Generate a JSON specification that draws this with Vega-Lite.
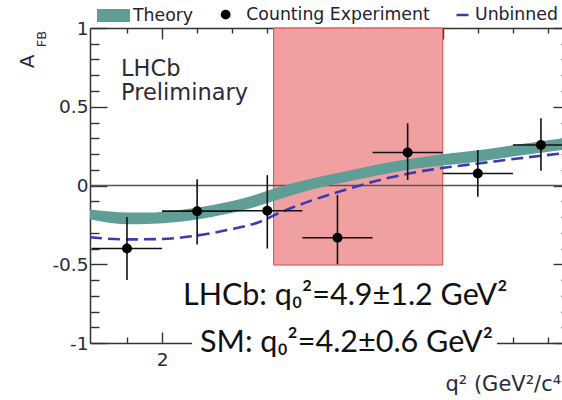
{
  "$schema": "https://vega.github.io/schema/vega-lite/v6.json",
  "width": 480,
  "height": 315,
  "autosize": {"type": "none"},
  "padding": {"left": 90, "top": 28, "right": 0, "bottom": 57},
  "background": "white",
  "config": {
    "view": {"stroke": null},
    "axis": {"grid": false, "labelFlush": false, "labelOverlap": false, "domainColor": "#333", "domainWidth": 1.5, "tickColor": "#333", "tickWidth": 1.4, "labelFont": "DejaVu Sans", "labelFontSize": 18.5, "labelColor": "#2a2a3a", "titleColor": "#2a2a3a", "titleFontWeight": "normal"},
    "legend": {"title": null, "orient": "none", "padding": 0, "labelFont": "DejaVu Sans", "labelFontSize": 17.3, "labelColor": "#222230", "labelLimit": 400}
  },
  "datasets": {
    "theory": [
      {"q": 0.973, "hi": -0.152, "lo": -0.215, "series": "Theory"},
      {"q": 1.3, "hi": -0.166, "lo": -0.24, "series": "Theory"},
      {"q": 1.5, "hi": -0.172, "lo": -0.246, "series": "Theory"},
      {"q": 1.785, "hi": -0.172, "lo": -0.244, "series": "Theory"},
      {"q": 2.256, "hi": -0.155, "lo": -0.23, "series": "Theory"},
      {"q": 2.726, "hi": -0.124, "lo": -0.198, "series": "Theory"},
      {"q": 3.21, "hi": -0.075, "lo": -0.151, "series": "Theory"},
      {"q": 3.65, "hi": -0.012, "lo": -0.09, "series": "Theory"},
      {"q": 4.151, "hi": 0.046, "lo": -0.024, "series": "Theory"},
      {"q": 4.636, "hi": 0.092, "lo": 0.024, "series": "Theory"},
      {"q": 5.106, "hi": 0.137, "lo": 0.067, "series": "Theory"},
      {"q": 5.576, "hi": 0.172, "lo": 0.105, "series": "Theory"},
      {"q": 5.961, "hi": 0.197, "lo": 0.125, "series": "Theory"},
      {"q": 6.531, "hi": 0.226, "lo": 0.152, "series": "Theory"},
      {"q": 7.101, "hi": 0.262, "lo": 0.19, "series": "Theory"},
      {"q": 7.7, "hi": 0.299, "lo": 0.225, "series": "Theory"},
      {"q": 7.814, "hi": 0.305, "lo": 0.231, "series": "Theory"}
    ],
    "unbinned": [
      {"q": 0.973, "a": -0.329, "series": "Unbinned"},
      {"q": 1.5, "a": -0.342, "series": "Unbinned"},
      {"q": 1.971, "a": -0.34, "series": "Unbinned"},
      {"q": 2.441, "a": -0.321, "series": "Unbinned"},
      {"q": 2.925, "a": -0.283, "series": "Unbinned"},
      {"q": 3.396, "a": -0.23, "series": "Unbinned"},
      {"q": 3.66, "a": -0.176, "series": "Unbinned"},
      {"q": 4.151, "a": -0.092, "series": "Unbinned"},
      {"q": 4.636, "a": -0.024, "series": "Unbinned"},
      {"q": 5.106, "a": 0.035, "series": "Unbinned"},
      {"q": 5.576, "a": 0.081, "series": "Unbinned"},
      {"q": 5.961, "a": 0.109, "series": "Unbinned"},
      {"q": 6.531, "a": 0.141, "series": "Unbinned"},
      {"q": 7.101, "a": 0.173, "series": "Unbinned"},
      {"q": 7.7, "a": 0.204, "series": "Unbinned"},
      {"q": 7.814, "a": 0.21, "series": "Unbinned"}
    ],
    "points": [
      {"q": 1.5, "a": -0.4, "qlo": 1.0, "qhi": 2.0, "alo": -0.6, "ahi": -0.2, "series": "Counting Experiment"},
      {"q": 2.5, "a": -0.163, "qlo": 2.0, "qhi": 3.0, "alo": -0.375, "ahi": 0.04, "series": "Counting Experiment"},
      {"q": 3.5, "a": -0.16, "qlo": 3.0, "qhi": 4.0, "alo": -0.4, "ahi": 0.066, "series": "Counting Experiment"},
      {"q": 4.5, "a": -0.332, "qlo": 4.0, "qhi": 5.0, "alo": -0.5, "ahi": -0.06, "series": "Counting Experiment"},
      {"q": 5.5, "a": 0.21, "qlo": 5.0, "qhi": 6.0, "alo": 0.035, "ahi": 0.395, "series": "Counting Experiment"},
      {"q": 6.5, "a": 0.076, "qlo": 6.0, "qhi": 7.0, "alo": -0.071, "ahi": 0.225, "series": "Counting Experiment"},
      {"q": 7.4, "a": 0.257, "qlo": 7.0, "qhi": 8.0, "alo": 0.094, "ahi": 0.427, "series": "Counting Experiment"}
    ]
  },
  "resolve": {"axis": {"x": "independent", "y": "independent"}, "scale": {"x": "shared", "y": "shared"}},
  "layer": [
    {
      "data": {"values": [{"lo": 3.59, "hi": 6.0, "bottom": -0.505, "top": 1}]},
      "mark": {"type": "rect", "fill": "#f0a0a0", "stroke": "#e04848", "strokeWidth": 1},
      "encoding": {
        "x": {"field": "lo", "type": "quantitative", "scale": {"domain": [0.973, 7.814], "nice": false, "zero": false},
          "axis": {"orient": "bottom", "values": [2], "ticks": false, "labelPadding": 7,
            "title": "q² (GeV²/c⁴)", "titleX": 355, "titleY": 47, "titleAlign": "left", "titleBaseline": "alphabetic", "titleFont": "DejaVu Sans", "titleFontSize": 21}},
        "x2": {"field": "hi"},
        "y": {"field": "bottom", "type": "quantitative", "scale": {"domain": [-1, 1], "nice": false, "zero": false},
          "axis": {"orient": "left", "values": [-1, -0.5, 0, 0.5, 1], "ticks": false, "labelPadding": 2,
            "labelExpr": "'' + datum.value",
            "title": "A", "titleAngle": -90, "titleX": -57, "titleY": 33, "titleAlign": "center", "titleBaseline": "alphabetic", "titleFont": "DejaVu Sans", "titleFontSize": 20}},
        "y2": {"field": "top"}
      }
    },
    {
      "data": {"values": [{"v": 0}]},
      "mark": {"type": "rule", "color": "#555", "strokeWidth": 1.3},
      "encoding": {"y": {"field": "v", "type": "quantitative", "scale": {"domain": [-1, 1], "nice": false, "zero": false}, "axis": null}}
    },
    {
      "data": {"name": "theory"},
      "mark": {"type": "area", "interpolate": "monotone"},
      "encoding": {
        "x": {"field": "q", "type": "quantitative", "scale": {"domain": [0.973, 7.814], "nice": false, "zero": false},
          "axis": {"orient": "top", "ticks": false, "labels": false, "title": null}},
        "y": {"field": "hi", "type": "quantitative", "scale": {"domain": [-1, 1], "nice": false, "zero": false},
          "axis": {"orient": "right", "ticks": false, "labels": false, "title": "FB", "titleAngle": -90, "titleX": -525, "titleY": 10.5, "titleAlign": "center", "titleBaseline": "alphabetic", "titleFont": "DejaVu Sans", "titleFontSize": 13}},
        "y2": {"field": "lo"},
        "fill": {"field": "series", "type": "nominal", "scale": {"range": ["#5f9e96"]},
          "legend": {"legendX": 7, "legendY": -29, "symbolType": "M-1,-0.4H1V0.4H-1Z", "symbolSize": 1089, "symbolStrokeWidth": 0, "labelOffset": 3}}
      }
    },
    {
      "data": {"name": "unbinned"},
      "mark": {"type": "line", "color": "#3a3ab5", "strokeWidth": 2.6, "interpolate": "monotone"},
      "encoding": {
        "x": {"field": "q", "type": "quantitative", "scale": {"domain": [0.973, 7.814], "nice": false, "zero": false},
          "axis": {"orient": "bottom", "values": [2, 4, 6], "offset": -11, "tickSize": 11, "domain": false, "labels": false, "title": null}},
        "y": {"field": "a", "type": "quantitative", "scale": {"domain": [-1, 1], "nice": false, "zero": false},
          "axis": {"orient": "left", "values": [-1, -0.5, 0, 0.5, 1], "offset": -17, "tickSize": 17, "domain": false, "labels": false, "title": null}},
        "strokeDash": {"field": "series", "type": "nominal", "scale": {"range": [[12, 6]]},
          "legend": {"legendX": 365, "legendY": -22, "symbolType": "stroke", "symbolSize": 225, "symbolStrokeColor": "#3a3ab5", "symbolStrokeWidth": 2.5, "labelOffset": 2}}
      }
    },
    {
      "data": {"name": "points"},
      "mark": {"type": "rule", "color": "#111", "strokeWidth": 1.6, "clip": true},
      "encoding": {
        "x": {"field": "qlo", "type": "quantitative", "scale": {"domain": [0.973, 7.814], "nice": false, "zero": false},
          "axis": {"orient": "bottom", "values": [1.5, 2.5, 3, 3.5, 4.5, 5, 5.5, 6.5, 7, 7.5], "offset": -6, "tickSize": 6, "domain": false, "labels": false, "title": null}},
        "x2": {"field": "qhi"},
        "y": {"field": "a", "type": "quantitative", "scale": {"domain": [-1, 1], "nice": false, "zero": false},
          "axis": {"orient": "left", "values": [-0.9, -0.8, -0.7, -0.6, -0.4, -0.3, -0.2, -0.1, 0.1, 0.2, 0.3, 0.4, 0.6, 0.7, 0.8, 0.9], "offset": -9, "tickSize": 9, "domain": false, "labels": false, "title": null}}
      }
    },
    {
      "data": {"name": "points"},
      "mark": {"type": "rule", "color": "#111", "strokeWidth": 1.6},
      "encoding": {
        "x": {"field": "q", "type": "quantitative", "scale": {"domain": [0.973, 7.814], "nice": false, "zero": false},
          "axis": {"orient": "top", "values": [2, 4, 6], "offset": -11, "tickSize": 11, "domain": false, "labels": false, "title": null}},
        "y": {"field": "alo", "type": "quantitative", "scale": {"domain": [-1, 1], "nice": false, "zero": false},
          "axis": {"orient": "right", "values": [-1, -0.5, 0, 0.5, 1], "offset": -17, "tickSize": 17, "domain": false, "labels": false, "title": null}},
        "y2": {"field": "ahi"}
      }
    },
    {
      "data": {"name": "points"},
      "mark": {"type": "point", "filled": true, "size": 100, "opacity": 1},
      "encoding": {
        "x": {"field": "q", "type": "quantitative", "scale": {"domain": [0.973, 7.814], "nice": false, "zero": false},
          "axis": {"orient": "top", "values": [1.5, 2.5, 3, 3.5, 4.5, 5, 5.5, 6.5, 7, 7.5], "offset": -5, "tickSize": 5, "domain": false, "labels": false, "title": null}},
        "y": {"field": "a", "type": "quantitative", "scale": {"domain": [-1, 1], "nice": false, "zero": false},
          "axis": {"orient": "right", "values": [-0.9, -0.8, -0.7, -0.6, -0.4, -0.3, -0.2, -0.1, 0.1, 0.2, 0.3, 0.4, 0.6, 0.7, 0.8, 0.9], "offset": -9, "tickSize": 9, "domain": false, "labels": false, "title": null}},
        "color": {"field": "series", "type": "nominal", "scale": {"range": ["#000000"]},
          "legend": {"legendX": 127, "legendY": -22, "symbolType": "circle", "symbolSize": 95, "symbolStrokeWidth": 0, "labelOffset": 12}}
      }
    },
    {
      "data": {"values": [{"x": 1.416, "y": 0.695, "t": "LHCb"}, {"x": 1.416, "y": 0.543, "t": "Preliminary"}]},
      "mark": {"type": "text", "align": "left", "baseline": "alphabetic", "font": "DejaVu Sans", "fontSize": 22.5, "color": "#2b2b3b"},
      "encoding": {
        "x": {"field": "x", "type": "quantitative", "scale": {"domain": [0.973, 7.814], "nice": false, "zero": false}, "axis": null},
        "y": {"field": "y", "type": "quantitative", "scale": {"domain": [-1, 1], "nice": false, "zero": false}, "axis": null},
        "text": {"field": "t"}
      }
    },
    {
      "data": {"values": [{"x1": 2.427, "x2": 6.773, "y1": -0.886, "y2": -1.12}]},
      "mark": {"type": "rect", "color": "white"},
      "encoding": {
        "x": {"field": "x1", "type": "quantitative", "scale": {"domain": [0.973, 7.814], "nice": false, "zero": false}, "axis": null},
        "x2": {"field": "x2"},
        "y": {"field": "y1", "type": "quantitative", "scale": {"domain": [-1, 1], "nice": false, "zero": false}, "axis": null},
        "y2": {"field": "y2"}
      }
    },
    {
      "data": {"values": [{"x": 2.298, "y": -0.759, "t": "LHCb: q₀²=4.9±1.2 GeV²"}, {"x": 2.541, "y": -1.057, "t": "SM: q₀²=4.2±0.6 GeV²"}]},
      "mark": {"type": "text", "align": "left", "baseline": "alphabetic", "font": "Lato", "fontSize": 30.5, "color": "#111"},
      "encoding": {
        "x": {"field": "x", "type": "quantitative", "scale": {"domain": [0.973, 7.814], "nice": false, "zero": false}, "axis": null},
        "y": {"field": "y", "type": "quantitative", "scale": {"domain": [-1, 1], "nice": false, "zero": false}, "axis": null},
        "text": {"field": "t"}
      }
    }
  ]
}
